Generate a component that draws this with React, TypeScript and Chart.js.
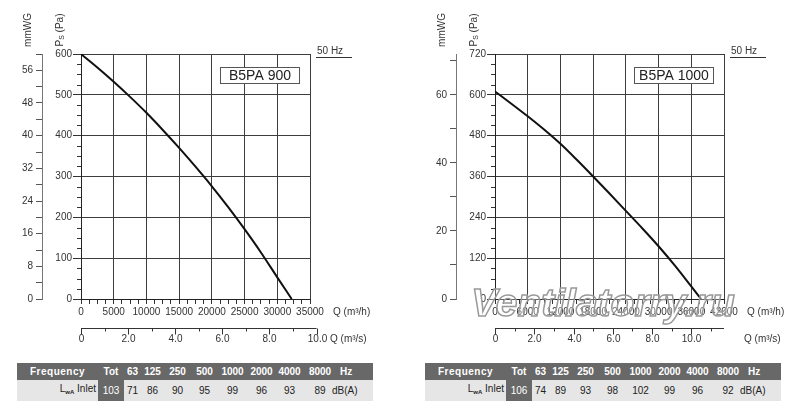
import { useEffect, useRef } from 'react';
import { Chart, registerables } from 'chart.js';

Chart.register(...registerables);

const FONT = '"Liberation Sans", Arial, Helvetica, sans-serif';
Chart.defaults.font.family = FONT;
Chart.defaults.font.size = 10;
Chart.defaults.color = '#333';

// B5PA 900 - airflow Q (m³/h) vs static pressure Ps (Pa)
const flow900 = [0, 2500, 5000, 7500, 10000, 12500, 15000, 17500, 20000, 22500, 25000, 27500, 30000, 32200];
const pressure900 = [600, 567, 532, 495, 456, 414, 370, 324, 276, 225, 171, 114, 53, 0];

// B5PA 1000
const flow1000 = [0, 3000, 6000, 9000, 12000, 15000, 18000, 21000, 24000, 27000, 30000, 33000, 36000, 37800];
const pressure1000 = [610, 574, 537, 498, 456, 409, 360, 310, 259, 208, 155, 98, 37, 0];

// sound power table
const bands = ['Tot', '63', '125', '250', '500', '1000', '2000', '4000', '8000'];
const sound900 = [103, 71, 86, 90, 95, 99, 96, 93, 89];
const sound1000 = [106, 74, 89, 93, 98, 102, 99, 96, 92];

const GRID = '#3d3d3d';
const DARK = '#686868';

type Panel = {
  model: string;
  flow: number[];
  pressure: number[];
  qMax: number;
  qStep: number;
  pMax: number;
  pStep: number;
  mmStep: number;
  mmLabel: number;
  qsEnd: number;
  watermark: boolean;
};

const panel900: Panel = {
  model: 'B5PA 900', flow: flow900, pressure: pressure900,
  qMax: 35000, qStep: 5000, pMax: 600, pStep: 100, mmStep: 4, mmLabel: 8,
  qsEnd: 10, watermark: false,
};
const panel1000: Panel = {
  model: 'B5PA 1000', flow: flow1000, pressure: pressure1000,
  qMax: 42000, qStep: 6000, pMax: 720, pStep: 120, mmStep: 10, mmLabel: 20,
  qsEnd: 42000 / 3600, watermark: true,
};

// extra axis bits: minor ticks, m³/s axis, labels, model box
function decor(p: Panel) {
  return {
    id: 'decor',
    afterDraw(chart: any) {
      const { ctx, chartArea: a } = chart;
      const x = chart.scales.x;
      const y = chart.scales.y;
      const seg = (x1: number, y1: number, x2: number, y2: number) => {
        ctx.beginPath();
        ctx.moveTo(x1, y1);
        ctx.lineTo(x2, y2);
        ctx.stroke();
      };
      ctx.save();
      ctx.lineWidth = 1;
      ctx.strokeStyle = '#333';
      ctx.fillStyle = '#333';

      const pMinor = p.pStep / 4;
      for (let v = pMinor; v < p.pMax; v += pMinor) {
        if (v % p.pStep === 0) continue;
        const py = Math.round(y.getPixelForValue(v)) + 0.5;
        seg(a.left - 4, py, a.left, py);
      }

      // Q in m³/s
      const ay = a.bottom + 29.5;
      seg(x.getPixelForValue(0), ay, x.getPixelForValue(p.qsEnd * 3600), ay);
      ctx.font = `10px ${FONT}`;
      ctx.textAlign = 'center';
      ctx.textBaseline = 'middle';
      for (let s = 0; s <= Math.floor(p.qsEnd); s++) {
        const px = Math.round(x.getPixelForValue(s * 3600)) + 0.5;
        const major = s % 2 === 0;
        seg(px, ay, px, ay + (major ? 6 : 3));
        if (major) ctx.fillText(s === 0 ? '0' : s.toFixed(1), px, ay + 11);
      }

      ctx.textAlign = 'left';
      ctx.fillText('Q (m³/h)', a.right + 23, a.bottom + 13);
      ctx.fillText('Q (m³/s)', a.right + 20, ay + 11);

      ctx.fillText('50 Hz', a.right + 7, 51);
      seg(a.right + 6, 57.5, a.right + 42, 57.5);

      // rotated axis titles
      ctx.save();
      ctx.translate(28, 30);
      ctx.rotate(-Math.PI / 2);
      ctx.textAlign = 'center';
      ctx.fillText('mmWG', 0, 0);
      ctx.restore();

      ctx.save();
      ctx.translate(60, 30);
      ctx.rotate(-Math.PI / 2);
      ctx.font = `10px ${FONT}`;
      const wP = ctx.measureText('P').width;
      ctx.font = `7px ${FONT}`;
      const wS = ctx.measureText('S').width;
      ctx.font = `10px ${FONT}`;
      const wR = ctx.measureText(' (Pa)').width;
      let tx = -(wP + wS + wR) / 2;
      ctx.fillText('P', tx, 0);
      tx += wP;
      ctx.font = `7px ${FONT}`;
      ctx.fillText('S', tx, 2);
      tx += wS;
      ctx.font = `10px ${FONT}`;
      ctx.fillText(' (Pa)', tx, 0);
      ctx.restore();

      // model label box
      ctx.fillStyle = '#fff';
      ctx.fillRect(a.right - 90, 67, 80, 16);
      ctx.strokeStyle = '#555';
      ctx.strokeRect(a.right - 89.5, 67.5, 79, 16);
      ctx.fillStyle = '#222';
      ctx.font = `14px ${FONT}`;
      ctx.textAlign = 'center';
      ctx.fillText(p.model, a.right - 50, 76);

      if (p.watermark) {
        ctx.font = `italic bold 39px ${FONT}`;
        ctx.textAlign = 'center';
        ctx.textBaseline = 'alphabetic';
        ctx.fillStyle = 'rgba(255,255,255,0.3)';
        ctx.strokeStyle = '#999';
        ctx.lineWidth = 1.5;
        ctx.fillText('Ventilatorry.ru', 189, 316);
        ctx.strokeText('Ventilatorry.ru', 189, 316);
      }
      ctx.restore();
    },
  };
}

function FanChart({ panel, left }: { panel: Panel; left: number }) {
  const chartRef = useRef<HTMLCanvasElement>(null);

  useEffect(() => {
    if (!chartRef.current) return;
    const p = panel;
    const chart = new Chart(chartRef.current, {
      type: 'line',
      data: {
        datasets: [
          {
            data: p.flow.map((q, i) => ({ x: q, y: p.pressure[i] })),
            borderColor: '#111',
            borderWidth: 2,
            pointRadius: 0,
            cubicInterpolationMode: 'monotone',
            fill: false,
          },
        ],
      },
      options: {
        animation: false,
        responsive: false,
        layout: { padding: { top: 54, right: 76, bottom: 31, left: 0 } },
        plugins: { legend: { display: false }, tooltip: { enabled: false } },
        scales: {
          x: {
            type: 'linear',
            min: 0,
            max: p.qMax,
            afterFit: (s: any) => { s.height = 20; },
            ticks: {
              stepSize: p.qStep / 4,
              autoSkip: false,
              maxRotation: 0,
              padding: 2,
              callback: (v: any) => (v % p.qStep === 0 ? String(v) : ''),
            },
            grid: {
              color: (c: any) => (c.tick && c.tick.value % p.qStep === 0 ? GRID : 'rgba(0,0,0,0)'),
              tickColor: '#333',
              tickLength: 5,
            },
            border: { color: '#222' },
          },
          y: {
            type: 'linear',
            position: 'left',
            weight: 0,
            min: 0,
            max: p.pMax,
            afterFit: (s: any) => { s.width = 39; },
            ticks: { stepSize: p.pStep, padding: 1 },
            grid: { color: GRID, tickColor: '#333', tickLength: 8 },
            border: { color: '#222' },
          },
          mm: {
            type: 'linear',
            position: 'left',
            weight: 1,
            min: 0,
            max: p.pMax / 10,
            afterFit: (s: any) => { s.width = 42; },
            ticks: {
              stepSize: p.mmStep,
              autoSkip: false,
              includeBounds: false,
              padding: 3,
              callback: (v: any) => (v % p.mmLabel === 0 ? String(v) : ''),
            },
            grid: { drawOnChartArea: false, color: '#555', tickLength: 6 },
            border: { color: '#777' },
          },
        },
      },
      plugins: [decor(p)],
    } as any);

    return () => chart.destroy();
  }, [panel]);

  return (
    <canvas
      ref={chartRef}
      width={386}
      height={350}
      style={{ position: 'absolute', left, top: 0, width: 386, height: 350 }}
    />
  );
}

const colWidths = [81, 26, 17, 23, 27, 27, 29, 29, 27, 34, 36];

function SoundTable({ left, values }: { left: number; values: number[] }) {
  const cell = { padding: 0, textAlign: 'center' as const, whiteSpace: 'nowrap' as const };
  return (
    <table
      style={{
        position: 'absolute', left, top: 363, width: 356, borderCollapse: 'collapse',
        tableLayout: 'fixed', fontFamily: FONT, fontSize: 10, lineHeight: '17px',
      }}
    >
      <colgroup>
        {colWidths.map((w, i) => <col key={i} style={{ width: w }} />)}
      </colgroup>
      <tbody>
        <tr style={{ background: DARK, color: '#fff', fontWeight: 'bold', height: 17 }}>
          <td style={{ ...cell, textAlign: 'left', paddingLeft: 13, letterSpacing: 0.5 }}>Frequency</td>
          {bands.map((b) => <td key={b} style={cell}>{b}</td>)}
          <td style={{ ...cell, textAlign: 'left', paddingLeft: 3 }}>Hz</td>
        </tr>
        <tr style={{ background: '#e6e6e6', color: '#222', height: 17 }}>
          <td style={{ ...cell, textAlign: 'right', paddingRight: 2 }}>
            L<sub style={{ fontSize: 6, fontWeight: 'bold', verticalAlign: -2 }}>wA</sub> Inlet
          </td>
          {values.map((v, i) => (
            <td key={i} style={i === 0 ? { ...cell, background: DARK, color: '#fff' } : cell}>{v}</td>
          ))}
          <td style={{ ...cell, textAlign: 'left' }}><span style={{ position: 'relative', left: -5 }}>dB(A)</span></td>
        </tr>
      </tbody>
    </table>
  );
}

export default function App() {
  return (
    <div style={{ position: 'fixed', left: 0, top: 0, width: 800, height: 415, background: '#fff', overflow: 'hidden' }}>
      <FanChart panel={panel900} left={0} />
      <FanChart panel={panel1000} left={414} />
      <SoundTable left={17} values={sound900} />
      <SoundTable left={425} values={sound1000} />
    </div>
  );
}
